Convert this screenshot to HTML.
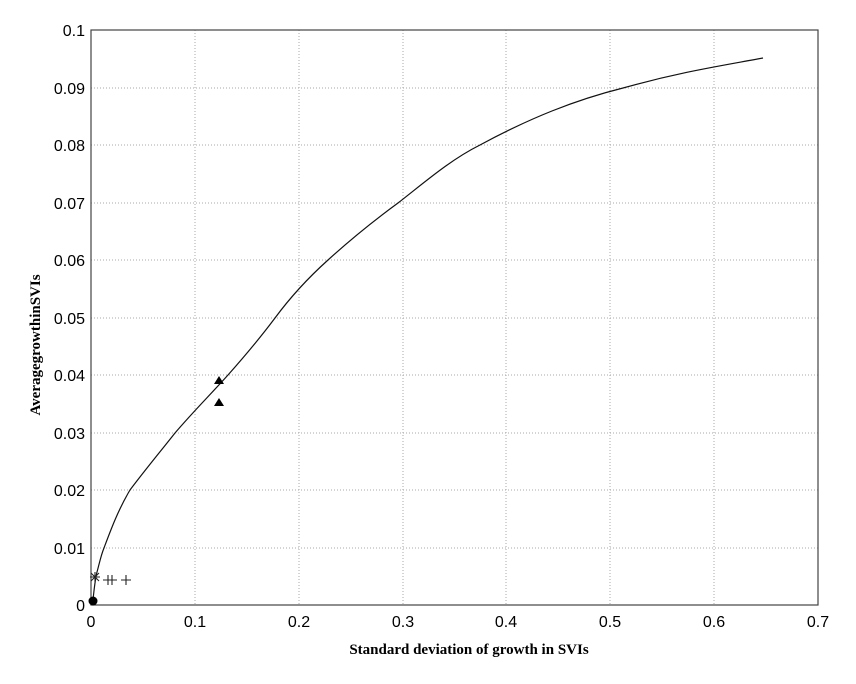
<!DOCTYPE html><html><head><style>body{margin:0;background:#fff}svg text{font-family:"Liberation Sans",sans-serif;font-size:16px}</style></head><body>
<svg width="856" height="679" xmlns="http://www.w3.org/2000/svg">
<g stroke="#aaa" stroke-dasharray="1,2" stroke-width="1">
<line x1="195" y1="30" x2="195" y2="605"/><line x1="299" y1="30" x2="299" y2="605"/><line x1="403" y1="30" x2="403" y2="605"/><line x1="506" y1="30" x2="506" y2="605"/><line x1="610" y1="30" x2="610" y2="605"/><line x1="714" y1="30" x2="714" y2="605"/>
<line x1="91" y1="88" x2="818" y2="88"/><line x1="91" y1="145" x2="818" y2="145"/><line x1="91" y1="203" x2="818" y2="203"/><line x1="91" y1="260" x2="818" y2="260"/><line x1="91" y1="318" x2="818" y2="318"/><line x1="91" y1="375" x2="818" y2="375"/><line x1="91" y1="433" x2="818" y2="433"/><line x1="91" y1="490" x2="818" y2="490"/><line x1="91" y1="548" x2="818" y2="548"/>
</g>
<rect x="91" y="30" width="727" height="575" fill="none" stroke="#444" stroke-width="1.2"/>
<g text-anchor="end"><text x="85" y="36">0.1</text><text x="85" y="94">0.09</text><text x="85" y="151">0.08</text><text x="85" y="209">0.07</text><text x="85" y="266">0.06</text><text x="85" y="324">0.05</text><text x="85" y="381">0.04</text><text x="85" y="439">0.03</text><text x="85" y="496">0.02</text><text x="85" y="554">0.01</text><text x="85" y="611">0</text></g>
<g text-anchor="middle"><text x="91" y="627">0</text><text x="195" y="627">0.1</text><text x="299" y="627">0.2</text><text x="403" y="627">0.3</text><text x="506" y="627">0.4</text><text x="610" y="627">0.5</text><text x="714" y="627">0.6</text><text x="818" y="627">0.7</text></g>
<text x="469" y="654" text-anchor="middle" style="font-family:'Liberation Serif',serif;font-weight:bold;font-size:15px">Standard deviation of growth in SVIs</text>
<text transform="translate(40,345) rotate(-90)" text-anchor="middle" style="font-family:'Liberation Serif',serif;font-weight:bold;font-size:15px">AveragegrowthinSVIs</text>
<path d="M93,600 C94,590 95,580 97,572 C99,565 101,555 104,548 C110,532 118,510 130,490 C145,470 160,452 175,433 C192,413 210,395 228,375 C244,357 260,338 275,318 C292,295 308,278 328,260 C350,240 372,222 398,203 C425,182 450,160 480,145 C530,118 575,100 623,88 C680,72 720,66 763,58" fill="none" stroke="#111" stroke-width="1.2"/>
<circle cx="93" cy="601" r="4.5" fill="#000"/>
<g stroke="#222" stroke-width="1.1"><path d="M90,577h10M95,572v10M91,573l8,8M99,573l-8,8"/><path d="M103,580h10M108,575v10M107,580h10M112,575v10M121,580h10M126,575v10"/></g>
<path d="M219,376 l5,8 h-10z M219,398 l5,8 h-10z" fill="#000"/>
</svg></body></html>
